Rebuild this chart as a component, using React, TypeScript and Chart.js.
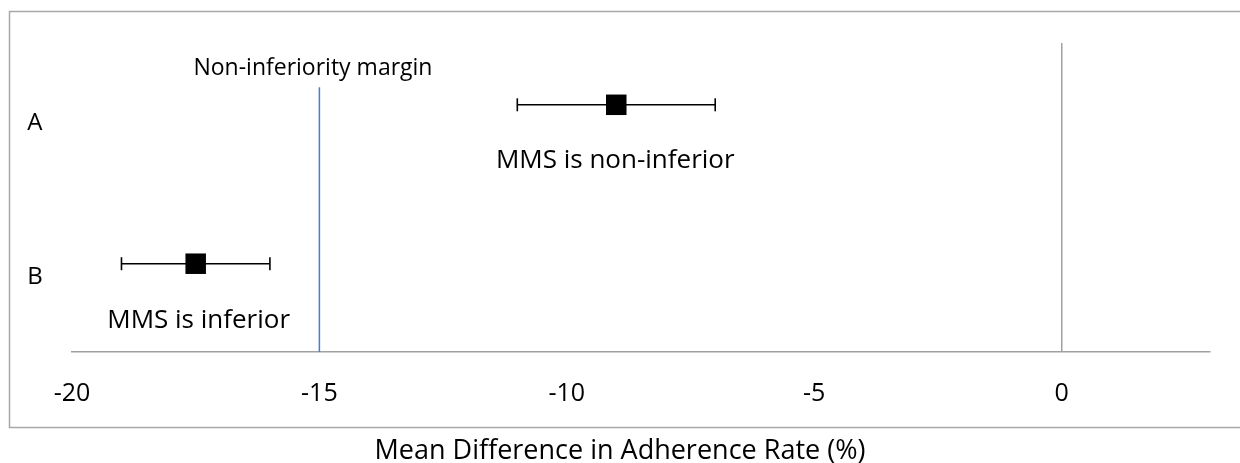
import React, { useEffect, useRef } from "react";
import { Chart, registerables } from "chart.js";

Chart.register(...registerables);

// ---- data ----
const groups = ["A", "B"];
const estimates = [-9, -17.5];
const ciLow = [-11, -19];
const ciHigh = [-7, -16];
const rowY = [2.8, 1.0];
const groupLabelX = -20.75;
const groupLabelY = [2.61, 0.87];
const marginValue = -15;
const marginTopY = 3;
const xMin = -20;
const xMax = 3;
const xStep = 5;
const yMin = 0;
const yMax = 3.5;
const xTitle = "Mean Difference in Adherence Rate (%)";
const noteTexts = ["Non-inferiority margin", "MMS is non-inferior", "MMS is inferior"];
const noteX = [-15.13, -9.02, -17.44];
const noteY = [3.23, 2.19, 0.37];
const noteSize = [23, 26, 26];

const FONT = '"Open Sans", "Noto Sans", sans-serif';

const annotPlugin = {
  id: "annot",
  afterDraw(chart: any) {
    const { ctx } = chart;
    const x = chart.scales.x;
    const y = chart.scales.y;
    ctx.save();
    // outer frame
    ctx.strokeStyle = "#a8a8a8";
    ctx.lineWidth = 1.5;
    ctx.strokeRect(9.5, 11.5, 1260, 416);
    ctx.fillStyle = "#000";
    ctx.textAlign = "center";
    ctx.textBaseline = "alphabetic";
    const putPx = (t: string, px: number, py: number, size: number) => {
      ctx.font = `${size}px ${FONT}`;
      const cap = ctx.measureText("H").actualBoundingBoxAscent;
      ctx.fillText(t, px, py + cap / 2);
    };
    const put = (t: string, vx: number, vy: number, size: number) =>
      putPx(t, x.getPixelForValue(vx), y.getPixelForValue(vy), size);
    groups.forEach((g, i) => put(g, groupLabelX, groupLabelY[i], 24));
    noteTexts.forEach((t, i) => put(t, noteX[i], noteY[i], noteSize[i]));
    // axis title, centred under the frame
    putPx(xTitle, chart.width / 2, 449, 27);
    ctx.restore();
  },
};

export default function App() {
  const ref = useRef<HTMLCanvasElement>(null);
  useEffect(() => {
    if (!ref.current) return;
    const errDatasets = groups.map((g, i) => ({
      label: "CI " + g,
      data: [
        { x: ciLow[i], y: rowY[i] },
        { x: ciHigh[i], y: rowY[i] },
      ],
      showLine: true,
      borderColor: "#000",
      borderWidth: 1.6,
      pointStyle: "line",
      rotation: 90,
      pointRadius: 6.5,
      pointBorderWidth: 1.6,
      pointBorderColor: "#000",
      pointBackgroundColor: "#000",
      clip: false,
    }));
    const chart = new Chart(ref.current, {
      type: "scatter",
      data: {
        datasets: [
          {
            label: "Margin",
            data: [
              { x: marginValue, y: yMin },
              { x: marginValue, y: marginTopY },
            ],
            showLine: true,
            borderColor: "#4a7bd6",
            borderWidth: 1.5,
            pointRadius: 0,
          },
          ...errDatasets,
          {
            label: "Estimate",
            data: groups.map((g, i) => ({ x: estimates[i], y: rowY[i] })),
            pointStyle: "rect",
            pointRadius: 14.5,
            backgroundColor: "#000",
            borderColor: "#000",
            borderWidth: 0,
          },
        ] as any,
      },
      options: {
        animation: false,
        responsive: false,
        devicePixelRatio: 1,
        layout: { padding: { left: 72, right: 30, top: 43, bottom: 27 } },
        plugins: { legend: { display: false }, tooltip: { enabled: false } },
        scales: {
          x: {
            type: "linear",
            min: xMin,
            max: xMax,
            afterBuildTicks: (scale: any) => {
              scale.ticks = scale.ticks.filter((t: any) => t.value % xStep === 0);
            },
            ticks: {
              stepSize: xStep,
              padding: 27,
              color: "#000",
              font: { family: FONT, size: 25 },
              maxRotation: 0,
            },
            grid: {
              drawTicks: false,
              color: (c: any) => (c.tick && c.tick.value === 0 ? "#a0a0a0" : "rgba(0,0,0,0)"),
              lineWidth: 1.5,
            },
            border: { display: true, color: "#a0a0a0", width: 1.5 },
            title: { display: false, text: xTitle },
          },
          y: {
            type: "linear",
            display: false,
            min: yMin,
            max: yMax,
          },
        },
      },
      plugins: [annotPlugin],
    });
    return () => chart.destroy();
  }, []);
  return (
    <div style={{ position: "fixed", left: 0, top: 0, width: 1240, height: 463, background: "#fff" }}>
      <canvas ref={ref} width={1240} height={463} style={{ display: "block", width: 1240, height: 463 }} />
    </div>
  );
}
